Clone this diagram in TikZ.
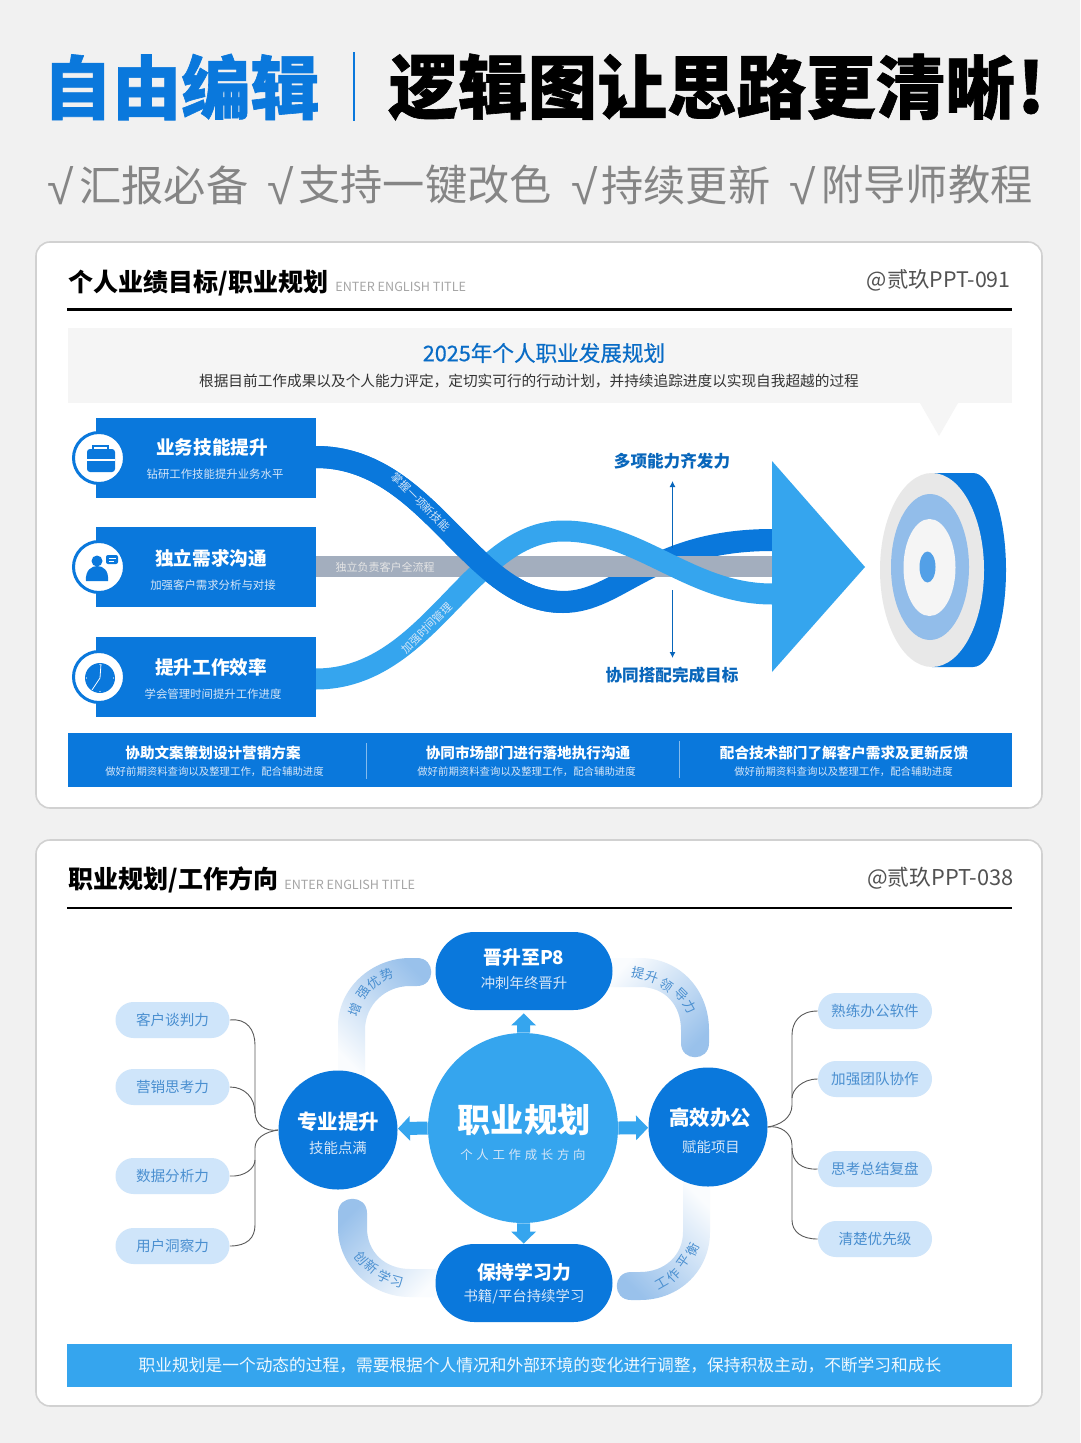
\documentclass[tikz,border=0pt]{standalone}
\usepackage{fontspec}
\setmainfont{Noto Sans CJK SC}
\newfontfamily\heavyfont{Noto Sans CJK SC}[BoldFeatures={FakeBold=0.9}]
\newfontfamily\medfont{Noto Sans CJK SC}[FakeBold=0.5]
\newfontfamily\tickfont{Liberation Sans}
\usetikzlibrary{arrows.meta, shadings}

\definecolor{deepblue}{HTML}{0A78DC}
\definecolor{skyblue}{HTML}{35A5EE}
\definecolor{ribbongray}{HTML}{A3AEBE}
\definecolor{pagegray}{HTML}{F1F1F1}
\definecolor{pillblue}{HTML}{CFE5FA}
\definecolor{pilltext}{HTML}{4A8FD0}
\definecolor{archblue}{HTML}{99C1EB}
\definecolor{softwhite}{HTML}{D5E6F8}

\newcommand{\fs}[1]{\fontsize{#1}{#1}\selectfont}
\newcommand{\darkribbon}{(316,457) .. controls (430,457) and (470,602) .. (563,602) .. controls (620,602) and (650,540) .. (772,540)}
\newcommand{\lightribbon}{(316,679) .. controls (430,679) and (470,531) .. (563,531) .. controls (640,531) and (690,594) .. (772,594)}

\tikzset{
    card/.style={draw=black!18, line width=0.8pt, fill=white, rounded corners=7pt},
    headtitle/.style={anchor=west, inner sep=0pt, font=\bfseries\fs{12.5}},
    headeng/.style={anchor=west, inner sep=0pt, text=black!35, font=\fs{6.3}},
    headtag/.style={anchor=east, inner sep=0pt, text=black!68, font=\fs{10.7}},
    tickmark/.style={anchor=west, inner sep=0pt, text=black!48, font=\tickfont\fs{24}},
    ticktext/.style={anchor=west, inner sep=0pt, text=black!48, font=\fs{21.1}},
    rowbox/.style={fill=deepblue, minimum width=110pt, minimum height=40pt, inner sep=0pt},
    rowring/.style={circle, draw=deepblue, line width=1.5pt, fill=white, minimum size=25.5pt, inner sep=0pt},
    rowtitle/.style={text=white, inner sep=0pt, font=\bfseries\fs{9.3}},
    rowsub/.style={text=softwhite, inner sep=0pt, font=\fs{5.7}},
    bandtitle/.style={text=white, inner sep=0pt, font=\bfseries\fs{7.3}},
    bandsub/.style={text=softwhite, inner sep=0pt, font=\fs{5.2}},
    ribbontext/.style={inner sep=0pt, font=\fs{5.5}},
    goaltext/.style={text=deepblue!85!black, inner sep=0pt, font=\bfseries\fs{8.3}},
    thinarrow/.style={draw=deepblue!85!black, line width=0.5pt, -{Latex[length=3pt,width=3pt]}},
    hub/.style={circle, fill=skyblue, minimum size=95pt, inner sep=0pt},
    satcircle/.style={circle, fill=deepblue, minimum size=59.5pt, inner sep=0pt},
    satpill/.style={fill=deepblue, minimum width=88.5pt, minimum height=39pt, rounded corners=19.5pt, inner sep=0pt},
    sattitle/.style={text=white, inner sep=0pt, font=\bfseries\fs{10.2}},
    pilltitle/.style={text=white, inner sep=0pt, font=\bfseries\fs{9.4}},
    satsub/.style={text=softwhite, inner sep=0pt, font=\fs{7.2}},
    hubarrow/.style={draw=skyblue, line width=6.5pt, -{Triangle[length=6pt,width=12pt]}},
    skillpill/.style={fill=pillblue, minimum width=57pt, minimum height=18pt, rounded corners=9pt, inner sep=0pt, text=pilltext, font=\fs{7.3}},
    branch/.style={draw=black!65, line width=0.45pt},
    archlabel/.style={inner sep=0pt, text=pilltext, font=\fs{6.5}}
}

\begin{document}
\begin{tikzpicture}[x=0.5pt, y=-0.5pt]
    \useasboundingbox (0,0) rectangle (1080,1443);
    \fill[pagegray] (0,0) rectangle (1080,1443);

    % top title
    \node[anchor=west, inner sep=0pt, text=deepblue, font=\heavyfont\bfseries\fs{34.6}] (titleblue) at (42.5,87) {自由编辑};
    \node[anchor=west, inner sep=0pt, font=\heavyfont\bfseries\fs{34.8}] (titleblack) at (388,87) {逻辑图让思路更清晰};
    \node[inner sep=0pt, font=\heavyfont\bfseries\fs{34.8}] (titlemark) at (1031,87) {!};
    \fill[deepblue] (352.5,52) rectangle (354.5,121);
    \foreach \i/\tx/\wx/\word in {1/47/79/汇报必备, 2/267/298/支持一键改色, 3/571/601/持续更新, 4/789/821/附导师教程} {
        \node[tickmark] (tick\i) at (\tx,186) {√};
        \node[ticktext] (word\i) at (\wx,185) {\word};
    }

    % first card
    \draw[card] (36,242) rectangle (1042,808);
    \node[headtitle] (head1) at (68,283) {个人业绩目标/职业规划};
    \node[headeng] (eng1) at (335,287) {ENTER ENGLISH TITLE};
    \node[headtag] (tag1) at (1011,280) {@贰玖PPT-091};
    \fill (67,308.5) rectangle (1012,311);
    \fill[black!4] (68,328) rectangle (1012,403);
    \fill[black!4] (920,403) -- (958,403) -- (939,436) -- cycle;
    \node[inner sep=0pt, text=deepblue!90!black, font=\medfont\fs{10.8}] (plan) at (544,353) {2025年个人职业发展规划};
    \node[inner sep=0pt, text=black!80, font=\fs{7.33}] (plansub) at (529,381) {根据目前工作成果以及个人能力评定，定切实可行的行动计划，并持续追踪进度以实现自我超越的过程};

    % ribbons
    \draw[deepblue, line width=11pt] \darkribbon;
    \fill[ribbongray] (316,556) rectangle (772,577);
    \draw[skyblue, line width=10.5pt] \lightribbon;
    \begin{scope}
        \clip (316,400) rectangle (560,720);
        \draw[deepblue, line width=11pt] \darkribbon;
    \end{scope}
    \node[ribbontext, text=softwhite, rotate=-45] (rib1) at (421,502) {掌握一项新技能};
    \node[ribbontext, text=softwhite, rotate=45] (rib2) at (427,628) {加强时间管理};
    \node[ribbontext, text=white!90!black] (rib3) at (385,567) {独立负责客户全流程};

    % arrow and target
    \fill[skyblue] (772,461) -- (865,567) -- (772,672) -- cycle;
    \fill[deepblue] (932,473) -- (973,473) .. controls (991,473) and (1006,516) .. (1006,570) .. controls (1006,624) and (991,667) .. (973,667) -- (932,667) -- cycle;
    \fill[black!9] (932,570) ellipse [x radius=52, y radius=97];
    \fill[archblue!95!deepblue] (930,567) ellipse [x radius=39, y radius=73];
    \fill[black!4] (929.5,567.5) ellipse [x radius=26, y radius=48.5];
    \fill[deepblue!70] (927.5,567) ellipse [x radius=8, y radius=15.5];

    \node[goaltext] (goalup) at (672,461) {多项能力齐发力};
    \node[goaltext] (goaldown) at (672,675) {协同搭配完成目标};
    \coordinate (upstart) at (672.5,548);
    \coordinate (upend) at (672.5,481);
    \coordinate (downstart) at (672.5,590);
    \coordinate (downend) at (672.5,658);
    \draw[thinarrow] (upstart) -- (upend);
    \draw[thinarrow] (downstart) -- (downend);

    % three rows
    \foreach \name/\y/\ttl/\sub/\tx/\sx/\ty/\sy in {skill/458/业务技能提升/钻研工作技能提升业务水平/212/215/447/474,
        talk/567/独立需求沟通/加强客户需求分析与对接/211/213/558/585,
        time/677/提升工作效率/学会管理时间提升工作进度/211/213/667/694} {
        \node[rowbox] (\name box) at (206,\y) {};
        \node[rowring] (\name ring) at (99,\y) {};
        \node[rowtitle] (\name title) at (\tx,\ty) {\ttl};
        \node[rowsub] (\name sub) at (\sx,\sy) {\sub};
    }

    % icons
    \draw[deepblue, line width=0.8pt] (93,452) -- (93,446) -- (108,446) -- (108,452);
    \fill[deepblue, rounded corners=1.5pt] (87,449) rectangle (115,472);
    \draw[white, line width=0.6pt] (87,460) -- (115,460);
    \fill[deepblue] (97,561) circle [radius=5.5];
    \fill[deepblue] (86,581) .. controls (85,570) and (92,566) .. (97,566) .. controls (103,566) and (109,570) .. (108,581) -- cycle;
    \fill[deepblue, rounded corners=1pt] (106,555) rectangle (118,564);
    \draw[white, line width=0.4pt] (108.5,558) -- (115.5,558) (108.5,561) -- (113.5,561);
    \fill[deepblue] (100,678) circle [radius=15];
    \draw[white, line width=0.4pt] (101,664) -- (100,678) -- (92,690);
    \foreach \a in {0,90,180,270}
        \fill[white] (100,678) ++(\a:13.5) circle [radius=0.6];

    % bottom band of first card
    \fill[deepblue] (68,733) rectangle (1012,787);
    \draw[white, opacity=0.5, line width=0.4pt] (366.5,743) -- (366.5,779) (679.5,741) -- (679.5,778);
    \foreach \i/\x/\sx/\ttl in {1/213/214.5/协助文案策划设计营销方案, 2/528/526.5/协同市场部门进行落地执行沟通, 3/844/843.5/配合技术部门了解客户需求及更新反馈} {
        \node[bandtitle] (band\i) at (\x,753) {\ttl};
        \node[bandsub] (bandsub\i) at (\sx,772) {做好前期资料查询以及整理工作，配合辅助进度};
    }

    % second card
    \draw[card] (36,840) rectangle (1042,1406);
    \node[headtitle] (head2) at (68,880) {职业规划/工作方向};
    \node[headeng] (eng2) at (284,885) {ENTER ENGLISH TITLE};
    \node[headtag, font=\fs{10.9}] (tag2) at (1014,878) {@贰玖PPT-038};
    \fill (67,906.5) rectangle (1012,909);

    % arches
    \shade[shading=axis, top color=archblue, bottom color=archblue!5, shading angle=-45]
        (338,1085) -- (338,1026) .. controls (338,988) and (372,958) .. (410,958) -- (417,958) .. controls (436,958) and (436,986) .. (417,986) -- (410,986) .. controls (385,986) and (365,1005) .. (365,1030) -- (365,1085) -- cycle;
    \shade[shading=axis, top color=archblue!5, bottom color=archblue, shading angle=45]
        (600,958) -- (640,958) .. controls (680,958) and (709,990) .. (709,1030) -- (709,1043) .. controls (709,1062) and (681,1062) .. (681,1043) -- (681,1030) .. controls (681,1005) and (665,987) .. (640,987) -- (600,987) -- cycle;
    \shade[shading=axis, top color=archblue, bottom color=archblue!5, shading angle=45]
        (338,1213) .. controls (338,1194) and (367,1194) .. (367,1213) -- (367,1228) .. controls (367,1252) and (385,1269) .. (410,1269) -- (450,1269) -- (450,1297) -- (410,1297) .. controls (370,1297) and (338,1265) .. (338,1228) -- cycle;
    \shade[shading=axis, top color=archblue!5, bottom color=archblue, shading angle=-45]
        (683,1175) -- (710,1175) -- (710,1232) .. controls (710,1270) and (680,1300) .. (640,1300) -- (631,1300) .. controls (612,1300) and (612,1272) .. (631,1272) -- (640,1272) .. controls (665,1272) and (683,1255) .. (683,1232) -- cycle;

    \foreach \x/\y/\a/\c [count=\i] in {355/1010/70/增, 363/993/55/强, 374/983/35/优, 387/975/20/势}
        \node[archlabel, rotate=\a] (archa\i) at (\x,\y) {\c};
    \foreach \x/\y/\a/\c [count=\i] in {638/973/-12/提, 652/977/-20/升, 667/985/-35/领, 681/995/-45/导, 690/1007/-60/力}
        \node[archlabel, rotate=\a] (archb\i) at (\x,\y) {\c};
    \foreach \x/\y/\a/\c [count=\i] in {361/1258/-50/创, 372/1267/-40/新, 385/1277/-25/学, 397/1282/-15/习}
        \node[archlabel, rotate=\a] (archc\i) at (\x,\y) {\c};
    \foreach \x/\y/\a/\c [count=\i] in {662/1283/30/工, 674/1275/45/作, 684/1262/55/平, 693/1250/65/衡}
        \node[archlabel, rotate=\a] (archd\i) at (\x,\y) {\c};

    % centre and satellites
    \node[hub] (career) at (523,1128) {};
    \node[satpill] (promote) at (524,971) {};
    \node[satpill] (study) at (524,1283) {};
    \node[satcircle] (pro) at (338,1130) {};
    \node[satcircle] (office) at (708,1127) {};

    \draw[hubarrow, shorten >=1.5pt] (career) -- (promote);
    \draw[hubarrow] (career) -- (study);
    \draw[hubarrow] (career.west) -- (pro);
    \draw[hubarrow] (career.east) -- (office);
    \node[hub, minimum size=94pt] (careerfront) at (523,1128) {};

    \node[inner sep=0pt, text=white, font=\bfseries\fs{16.6}] (careertitle) at (524,1120) {职业规划};
    \node[inner sep=0pt, text=softwhite, font=\addfontfeature{LetterSpace=30}\fs{6.2}] (careersub) at (523,1155) {个人工作成长方向};
    \node[sattitle] (protitle) at (338,1122) {专业提升};
    \node[satsub] (prosub) at (338,1148) {技能点满};
    \node[sattitle] (officetitle) at (710,1118) {高效办公};
    \node[satsub] (officesub) at (711,1147) {赋能项目};
    \node[pilltitle] (promotetitle) at (524,957) {晋升至P8};
    \node[satsub] (promotesub) at (524,983) {冲刺年终晋升};
    \node[pilltitle] (studytitle) at (524,1272) {保持学习力};
    \node[satsub] (studysub) at (524,1297) {书籍/平台持续学习};

    % skills
    \node[skillpill] (l1) at (172.5,1020) {客户谈判力\hspace{3pt}};
    \node[skillpill] (l2) at (172.5,1087) {营销思考力\hspace{3pt}};
    \node[skillpill] (l3) at (172.5,1176) {数据分析力\hspace{3pt}};
    \node[skillpill] (l4) at (172.5,1246) {用户洞察力\hspace{3pt}};
    \node[skillpill] (r1) at (875,1011) {熟练办公软件};
    \node[skillpill] (r2) at (875,1079) {加强团队协作};
    \node[skillpill] (r3) at (875,1169) {思考总结复盘};
    \node[skillpill] (r4) at (875,1239) {清楚优先级};

    \draw[branch] (l1.east) .. controls (247,1018) and (255,1030) .. (255,1045) -- (255,1112) .. controls (255,1124) and (265,1132) .. (pro.west);
    \draw[branch] (l2.east) .. controls (245,1087) and (255,1098) .. (255,1113);
    \draw[branch] (l3.east) .. controls (245,1177) and (255,1168) .. (255,1160);
    \draw[branch] (l4.east) .. controls (247,1246) and (255,1238) .. (255,1225) -- (255,1148) .. controls (255,1138) and (265,1132) .. (pro.west);
    \draw[branch] (r1.west) .. controls (800,1011) and (792,1022) .. (792,1035) -- (792,1105) .. controls (792,1118) and (780,1125) .. (office.east);
    \draw[branch] (r2.west) .. controls (802,1079) and (792,1090) .. (792,1098);
    \draw[branch] (r3.west) .. controls (802,1170) and (792,1162) .. (792,1148);
    \draw[branch] (r4.west) .. controls (802,1239) and (792,1232) .. (792,1220) -- (792,1145) .. controls (792,1133) and (780,1125) .. (office.east);

    % bottom band of second card
    \fill[skyblue] (67,1344) rectangle (1012,1387);
    \node[inner sep=0pt, text=white!92!skyblue, font=\fs{8.36}] (note) at (540,1365) {职业规划是一个动态的过程，需要根据个人情况和外部环境的变化进行调整，保持积极主动，不断学习和成长};
\end{tikzpicture}
\end{document}
